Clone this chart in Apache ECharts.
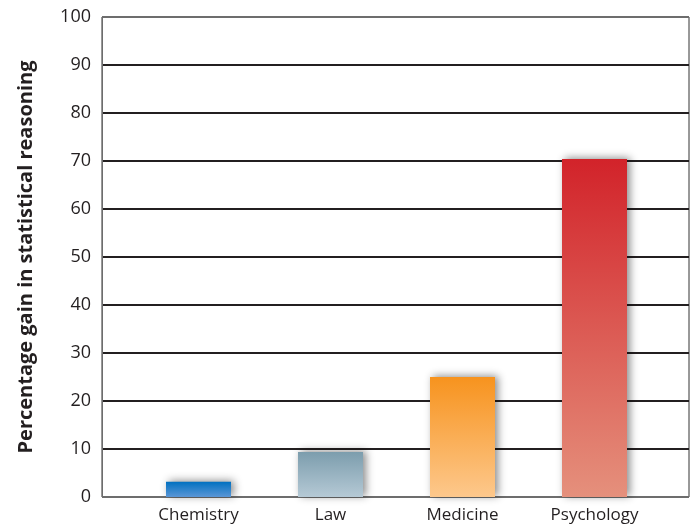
<!DOCTYPE html>
<html>
<head>
<meta charset="utf-8">
<script src="https://cdn.jsdelivr.net/npm/echarts@6/dist/echarts.min.js"></script>
<style>html,body{margin:0;padding:0;background:#fff}#c{width:692px;height:530px}</style>
</head>
<body>
<div id="c"></div>
<script>
var categories = ['Chemistry', 'Law', 'Medicine', 'Psychology'];
var gains = [3.2, 9.4, 25, 70.4];
var yTicks = [0, 10, 20, 30, 40, 50, 60, 70, 80, 90, 100];
var yTitle = 'Percentage gain in statistical reasoning';

var palette = [
  ['#0070c0', '#5a96d6'],
  ['#7c9dad', '#b5c9d5'],
  ['#f7931e', '#fdc88c'],
  ['#d2232a', '#e5907c']
];

var chart = echarts.init(document.getElementById('c'));
var FONT = 'Open Sans';
var splitColors = yTicks.map(function (t, i) { return (i === 0 || i === yTicks.length - 1) ? '#6d6d6d' : '#231f20'; });

chart.setOption({
  animation: false,
  textStyle: { fontFamily: FONT },
  grid: [
    { left: 102, right: 3, top: 17, bottom: 33, show: true, borderColor: '#333', borderWidth: 1, backgroundColor: 'transparent' },
    { left: 132.5, right: 31.5, top: 17, bottom: 33 }
  ],
  xAxis: [
    { type: 'value', gridIndex: 0, min: 0, max: 1, show: false },
    {
      type: 'category', gridIndex: 1, data: categories,
      axisLine: { show: false }, axisTick: { show: false },
      axisLabel: { color: '#231f20', fontSize: 17, margin: 10, fontFamily: FONT }
    }
  ],
  yAxis: [
    {
      type: 'value', gridIndex: 0, min: 0, max: 100, interval: 10,
      axisLine: { show: true, lineStyle: { color: '#6d6d6d', width: 1 } },
      axisTick: { show: false },
      axisLabel: { color: '#231f20', fontSize: 18, margin: 11, fontFamily: FONT },
      splitLine: { show: true, lineStyle: { color: splitColors, width: 2 } },
      name: yTitle, nameLocation: 'middle', nameGap: 66, nameRotate: 90,
      nameTextStyle: { color: '#231f20', fontSize: 20, fontWeight: 'bold', fontFamily: FONT }
    },
    { type: 'value', gridIndex: 1, min: 0, max: 100, interval: 10, show: false }
  ],
  series: [{
    type: 'bar', xAxisIndex: 1, yAxisIndex: 1,
    barWidth: 65,
    data: gains.map(function (v, i) {
      return {
        value: v,
        itemStyle: {
          color: new echarts.graphic.LinearGradient(0, 0, 0, 1, [
            { offset: 0, color: palette[i][0] },
            { offset: 1, color: palette[i][1] }
          ]),
          shadowBlur: 8, shadowColor: 'rgba(0,0,0,0.45)', shadowOffsetX: 3, shadowOffsetY: -1
        }
      };
    })
  }]
});
</script>
</body>
</html>
